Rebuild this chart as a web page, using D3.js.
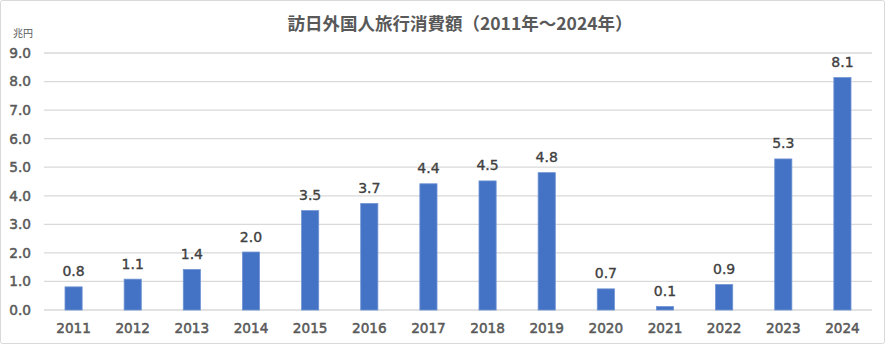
<!DOCTYPE html>
<html><head><meta charset="utf-8">
<script src="https://cdn.jsdelivr.net/npm/d3@7"></script>
<style>body{margin:0;background:#fff}svg{display:block}</style>
</head><body>
<svg id="c" width="886" height="345"></svg>
<script>
const years = ["2011","2012","2013","2014","2015","2016","2017","2018","2019","2020","2021","2022","2023","2024"];
const spending = [0.81,1.08,1.42,2.03,3.48,3.73,4.42,4.52,4.81,0.74,0.12,0.89,5.29,8.14];
const yTicks = [0,1,2,3,4,5,6,7,8,9];
const title = "訪日外国人旅行消費額（2011年～2024年）";
const unit = "兆円";

const svg = d3.select("#c");
const W = 886, H = 345;
const m = {left:44, right:14, top:53, bottom:35};
svg.append("rect").attr("x",0.5).attr("y",0.5).attr("width",W-2).attr("height",H-2)
  .attr("fill","#fff").attr("stroke","#d9d9d9").attr("rx",2);

const x = d3.scaleBand().domain(years).range([m.left, W-m.right]).paddingInner(0.71).paddingOuter(0.355);
const y = d3.scaleLinear().domain([0,9]).range([H-m.bottom, m.top]);

const font = "'DejaVu Sans', Verdana, sans-serif";
const grid = svg.append("g");
grid.selectAll("line").data(yTicks).join("line")
  .attr("x1", m.left).attr("x2", W-m.right)
  .attr("y1", d=>y(d)).attr("y2", d=>y(d))
  .attr("stroke","#d9d9d9").attr("stroke-width",1.3);

const yAxis = d3.axisLeft(y).tickValues(yTicks).tickFormat(d3.format(".1f")).tickSize(0).tickPadding(13);
svg.append("g").attr("transform",`translate(${m.left},0)`).call(yAxis)
  .call(g=>g.select(".domain").remove())
  .selectAll("text").attr("font-family",font).attr("font-size",13.7)
  .attr("stroke","#595959").attr("stroke-width",0.5).attr("fill","#595959");

const xAxis = d3.axisBottom(x).tickSize(0).tickPadding(13);
svg.append("g").attr("transform",`translate(0,${H-m.bottom})`).call(xAxis)
  .call(g=>g.select(".domain").remove())
  .selectAll("text").attr("font-family",font).attr("font-size",13.6)
  .attr("stroke","#595959").attr("stroke-width",0.5).attr("fill","#595959");

svg.append("g").selectAll("rect").data(spending).join("rect")
  .attr("x",(d,i)=>x(years[i])).attr("width",x.bandwidth())
  .attr("y",d=>y(d)).attr("height",d=>y(0)-y(d))
  .attr("fill","#4472c4").attr("stroke","#6f93d3").attr("stroke-width",0.8);

svg.append("g").selectAll("text").data(spending).join("text")
  .attr("x",(d,i)=>x(years[i])+x.bandwidth()/2).attr("y",d=>y(d)-10.5)
  .attr("text-anchor","middle").attr("font-family",font).attr("font-size",14)
  .attr("stroke","#404040").attr("stroke-width",0.35)
  .attr("fill","#404040").text(d=>d3.format(".1f")(d));

svg.append("text").attr("x",460).attr("y",29.5).attr("text-anchor","middle")
  .attr("font-family","'Noto Sans CJK JP', sans-serif").attr("font-size",17.5).attr("font-weight","bold")
  .attr("fill","#595959").text(title);

svg.append("text").attr("x",13).attr("y",37)
  .attr("font-family","'Noto Sans CJK JP', sans-serif").attr("font-size",10)
  .attr("fill","#595959").text(unit);
</script>
</body></html>
